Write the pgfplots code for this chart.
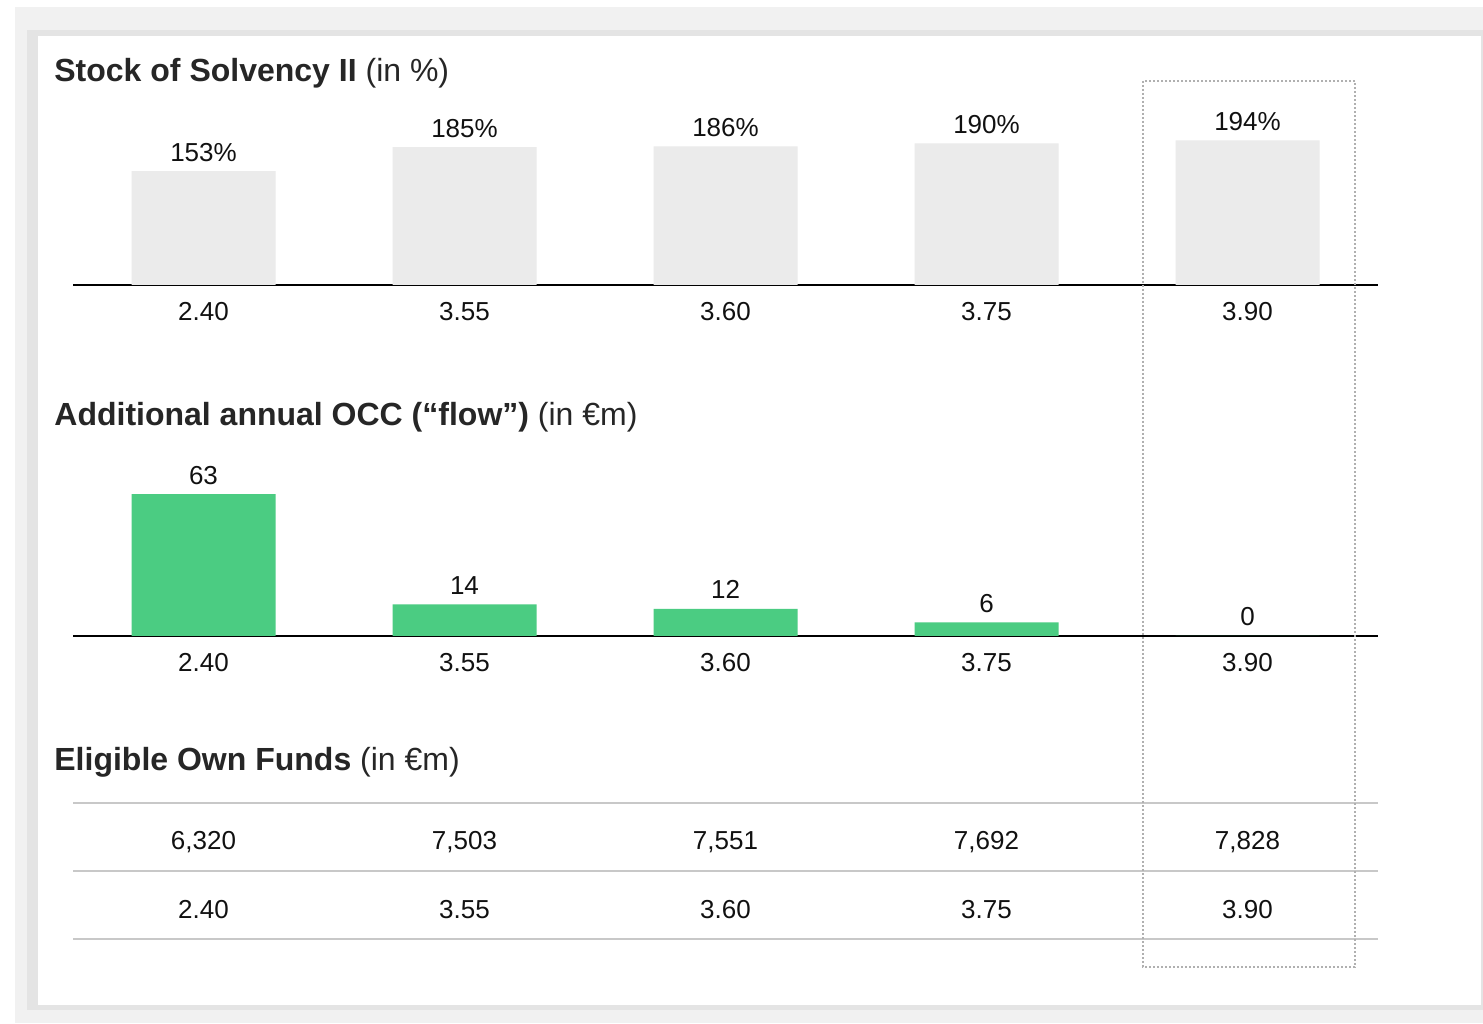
\documentclass[border=0pt]{standalone}
\usepackage{fontspec}
\setmainfont{Liberation Sans}
\usepackage{pgfplots}
\pgfplotsset{compat=1.18}
\definecolor{bggray}{HTML}{F1F1F1}
\definecolor{brd}{HTML}{E4E4E4}
\definecolor{barg}{HTML}{EBEBEB}
\definecolor{occgreen}{HTML}{4BCC82}
\definecolor{tline}{HTML}{C8C8C8}
\definecolor{dotc}{HTML}{B0B0B0}
\definecolor{ttl}{HTML}{262626}
\definecolor{lbl}{HTML}{111111}
\pgfplotsset{
  panel/.style={
    scale only axis, width=652.5pt,
    xmin=-0.5, xmax=4.5, ymin=0,
    clip=false,
    axis x line=bottom, axis y line=none,
    x axis line style={-, black, line width=1pt},
    xtick={0,1,2,3,4},
    xticklabels={2.40,3.55,3.60,3.75,3.90},
    major tick length=0pt,
    xticklabel style={font=\fontsize{13}{15}\selectfont, text=lbl, anchor=base, inner sep=0pt, yshift=-18pt},
    every node near coord/.append style={font=\fontsize{13}{15}\selectfont, text=lbl, anchor=base, inner sep=0pt, yshift=5pt},
  }
}
\begin{document}
\begin{tikzpicture}[x=0.5pt,y=0.5pt]
\path[use as bounding box] (0,0) rectangle (1483,1023);
\fill[bggray] (15,0) rectangle (1483,1016);
\fill[brd] (27,13) rectangle (1483,993);
\fill[white] (38,18) rectangle (1481,987);

\node[anchor=base west, inner sep=0pt, font=\fontsize{16}{19}\selectfont, text=ttl] at (54,941) {\textbf{Stock of Solvency II} (in \%)};
\node[anchor=base west, inner sep=0pt, font=\fontsize{16}{19}\selectfont, text=ttl] at (54,597) {\textbf{Additional annual OCC (“flow”)} (in €m)};
\node[anchor=base west, inner sep=0pt, font=\fontsize{16}{19}\selectfont, text=ttl] at (54,252) {\textbf{Eligible Own Funds} (in €m)};

\begin{axis}[panel, at={(36.5pt,369pt)}, anchor=south west, height=74.5pt, ymax=200]
\addplot[ybar, bar width=72pt, fill=barg, draw=none, point meta=explicit symbolic, nodes near coords]
  coordinates {(0,153) [153\%] (1,185) [185\%] (2,186) [186\%] (3,190) [190\%] (4,194) [194\%]};
\end{axis}

\begin{axis}[panel, at={(36.5pt,193.5pt)}, anchor=south west, height=78.75pt, ymax=70]
\addplot[ybar, bar width=72pt, fill=occgreen, draw=none, point meta=explicit symbolic, nodes near coords]
  coordinates {(0,63) [63] (1,14) [14] (2,12) [12] (3,6) [6] (4,0) [0]};
\end{axis}

\begin{axis}[scale only axis, width=652.5pt, height=68pt, at={(36.5pt,42pt)}, anchor=south west,
  xmin=-0.5, xmax=4.5, ymin=0, ymax=136, clip=false, hide axis]
\draw[tline, line width=1pt] (axis cs:-0.5,0) -- (axis cs:4.5,0);
\draw[tline, line width=1pt] (axis cs:-0.5,68) -- (axis cs:4.5,68);
\draw[tline, line width=1pt] (axis cs:-0.5,136) -- (axis cs:4.5,136);
\addplot[draw=none, mark=none, point meta=explicit symbolic, nodes near coords,
  every node near coord/.append style={font=\fontsize{13}{15}\selectfont, text=lbl, anchor=base, inner sep=0pt}]
  coordinates {(0,90) [{6,320}] (1,90) [{7,503}] (2,90) [{7,551}] (3,90) [{7,692}] (4,90) [{7,828}]};
\addplot[draw=none, mark=none, point meta=explicit symbolic, nodes near coords,
  every node near coord/.append style={font=\fontsize{13}{15}\selectfont, text=lbl, anchor=base, inner sep=0pt}]
  coordinates {(0,21) [2.40] (1,21) [3.55] (2,21) [3.60] (3,21) [3.75] (4,21) [3.90]};
\end{axis}

\draw[dotc, line width=1pt, dash pattern=on 1pt off 1pt] (1143,942) rectangle (1355,56);
\end{tikzpicture}
\end{document}
